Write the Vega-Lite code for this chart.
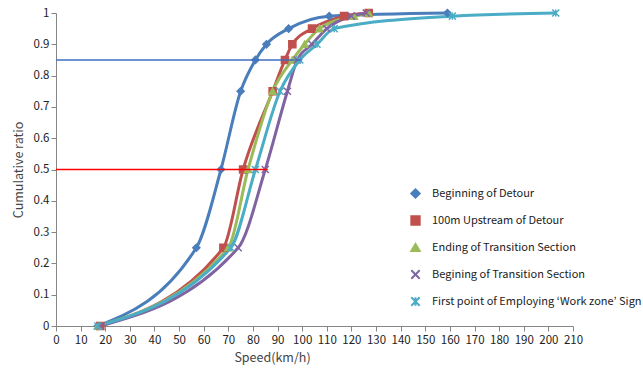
{
  "$schema": "https://vega.github.io/schema/vega-lite/v6.json",
  "width": 517,
  "height": 313,
  "autosize": {"type": "none"},
  "padding": {"left": 56, "top": 13, "right": 70, "bottom": 42},
  "background": "white",
  "config": {
    "view": {"stroke": null},
    "font": "Noto Sans CJK KR",
    "axis": {
      "domainColor": "#868686",
      "tickColor": "#868686",
      "tickSize": 5,
      "grid": false,
      "labelColor": "#222222",
      "labelFontSize": 11.5,
      "labelOverlap": false,
      "labelBound": false,
      "labelFlush": false,
      "titleFontSize": 12.5,
      "titleFontWeight": "normal",
      "titleColor": "#444444"
    }
  },
  "datasets": {
    "curves": [
      {"series": "Beginning of Detour", "speed": 17, "ratio": 0},
      {"series": "Beginning of Detour", "speed": 57, "ratio": 0.25},
      {"series": "Beginning of Detour", "speed": 67, "ratio": 0.5},
      {"series": "Beginning of Detour", "speed": 75, "ratio": 0.75},
      {"series": "Beginning of Detour", "speed": 81, "ratio": 0.85},
      {"series": "Beginning of Detour", "speed": 85.5, "ratio": 0.9},
      {"series": "Beginning of Detour", "speed": 94.5, "ratio": 0.95},
      {"series": "Beginning of Detour", "speed": 111, "ratio": 0.99},
      {"series": "Beginning of Detour", "speed": 159, "ratio": 1.0},
      {"series": "100m Upstream of Detour", "speed": 18, "ratio": 0},
      {"series": "100m Upstream of Detour", "speed": 68, "ratio": 0.25},
      {"series": "100m Upstream of Detour", "speed": 76, "ratio": 0.5},
      {"series": "100m Upstream of Detour", "speed": 88, "ratio": 0.75},
      {"series": "100m Upstream of Detour", "speed": 93, "ratio": 0.85},
      {"series": "100m Upstream of Detour", "speed": 96, "ratio": 0.9},
      {"series": "100m Upstream of Detour", "speed": 104, "ratio": 0.95},
      {"series": "100m Upstream of Detour", "speed": 117, "ratio": 0.99},
      {"series": "100m Upstream of Detour", "speed": 127, "ratio": 1.0},
      {"series": "Ending of Transition Section", "speed": 17, "ratio": 0},
      {"series": "Ending of Transition Section", "speed": 70, "ratio": 0.25},
      {"series": "Ending of Transition Section", "speed": 78, "ratio": 0.5},
      {"series": "Ending of Transition Section", "speed": 88, "ratio": 0.75},
      {"series": "Ending of Transition Section", "speed": 96, "ratio": 0.85},
      {"series": "Ending of Transition Section", "speed": 101, "ratio": 0.9},
      {"series": "Ending of Transition Section", "speed": 107, "ratio": 0.95},
      {"series": "Ending of Transition Section", "speed": 121, "ratio": 0.99},
      {"series": "Ending of Transition Section", "speed": 127, "ratio": 1.0},
      {"series": "Begining of Transition Section", "speed": 18, "ratio": 0},
      {"series": "Begining of Transition Section", "speed": 74, "ratio": 0.25},
      {"series": "Begining of Transition Section", "speed": 85, "ratio": 0.5},
      {"series": "Begining of Transition Section", "speed": 94, "ratio": 0.75},
      {"series": "Begining of Transition Section", "speed": 98, "ratio": 0.85},
      {"series": "Begining of Transition Section", "speed": 104, "ratio": 0.9},
      {"series": "Begining of Transition Section", "speed": 110, "ratio": 0.95},
      {"series": "Begining of Transition Section", "speed": 120, "ratio": 0.99},
      {"series": "Begining of Transition Section", "speed": 126, "ratio": 1.0},
      {"series": "First point of Employing ‘Work zone’ Sign", "speed": 17, "ratio": 0},
      {"series": "First point of Employing ‘Work zone’ Sign", "speed": 71, "ratio": 0.25},
      {"series": "First point of Employing ‘Work zone’ Sign", "speed": 81, "ratio": 0.5},
      {"series": "First point of Employing ‘Work zone’ Sign", "speed": 91, "ratio": 0.75},
      {"series": "First point of Employing ‘Work zone’ Sign", "speed": 99, "ratio": 0.85},
      {"series": "First point of Employing ‘Work zone’ Sign", "speed": 106, "ratio": 0.9},
      {"series": "First point of Employing ‘Work zone’ Sign", "speed": 113, "ratio": 0.95},
      {"series": "First point of Employing ‘Work zone’ Sign", "speed": 161, "ratio": 0.99},
      {"series": "First point of Employing ‘Work zone’ Sign", "speed": 203, "ratio": 1.0}
    ],
    "refs": [
      {"level": "85%", "speed": 0, "x1": 100, "ratio": 0.85},
      {"level": "50%", "speed": 0, "x1": 86, "ratio": 0.5}
    ]
  },
  "encoding": {
    "x": {"field": "speed", "type": "quantitative", "scale": {"domain": [0, 210], "nice": false, "zero": false},
      "axis": {"values": [0,10,20,30,40,50,60,70,80,90,100,110,120,130,140,150,160,170,180,190,200,210], "title": "Speed(km/h)", "titleX": 216, "titleAlign": "center", "titlePadding": 6, "labelPadding": 3, "labelOverlap": false}},
    "y": {"field": "ratio", "type": "quantitative", "scale": {"domain": [0, 1], "nice": false},
      "axis": {"values": [0,0.1,0.2,0.3,0.4,0.5,0.6,0.7,0.8,0.9,1], "format": ".1~f", "title": "Cumulative ratio", "titlePadding": 8, "labelOverlap": false}}
  },
  "layer": [
    {
      "data": {"name": "curves"},
      "mark": {"type": "line", "interpolate": "monotone", "strokeWidth": 3},
      "encoding": {
        "color": {"field": "series", "type": "nominal", "sort": null,
          "scale": {"domain": ["Beginning of Detour", "100m Upstream of Detour", "Ending of Transition Section", "Begining of Transition Section", "First point of Employing ‘Work zone’ Sign"], "range": ["#4A7EBB", "#C0504D", "#9BBB59", "#8064A2", "#4BACC6"]},
          "legend": {"orient": "none", "legendX": 354, "legendY": 175, "title": null, "labelFontSize": 11, "labelColor": "#222222", "rowPadding": 10, "labelLimit": 400, "symbolStrokeWidth": 2, "symbolSize": 70, "labelOffset": 11}}
      }
    },
    {
      "data": {"name": "curves"},
      "mark": {"type": "point", "filled": true, "size": 50, "strokeWidth": 1.5, "opacity": 1},
      "encoding": {
        "color": {"field": "series", "type": "nominal", "sort": null},
        "stroke": {"field": "series", "type": "nominal", "sort": null, "scale": {"domain": ["Beginning of Detour", "100m Upstream of Detour", "Ending of Transition Section", "Begining of Transition Section", "First point of Employing ‘Work zone’ Sign"], "range": ["#4A7EBB", "#C0504D", "#9BBB59", "#8064A2", "#4BACC6"]}, "legend": null},
        "shape": {"field": "series", "type": "nominal", "sort": null,
          "scale": {"domain": ["Beginning of Detour", "100m Upstream of Detour", "Ending of Transition Section", "Begining of Transition Section", "First point of Employing ‘Work zone’ Sign"], "range": ["diamond", "square", "triangle-up", "M-1,-1L1,1M-1,1L1,-1", "M-1,-1L1,1M-1,1L1,-1M0,-1L0,1"]},
          "legend": null}
      }
    },
    {
      "data": {"name": "refs"},
      "transform": [{"filter": "datum.level == '85%'"}],
      "mark": {"type": "rule", "strokeWidth": 1.5, "color": "#3F6FC0", "stroke": "#3F6FC0", "opacity": 1},
      "encoding": {
        "x2": {"field": "x1"}
      }
    },
    {
      "data": {"name": "refs"},
      "transform": [{"filter": "datum.level == '50%'"}],
      "mark": {"type": "rule", "strokeWidth": 1.5, "color": "#FF0000", "stroke": "#FF0000", "opacity": 1},
      "encoding": {
        "x2": {"field": "x1"}
      }
    }
  ]
}
